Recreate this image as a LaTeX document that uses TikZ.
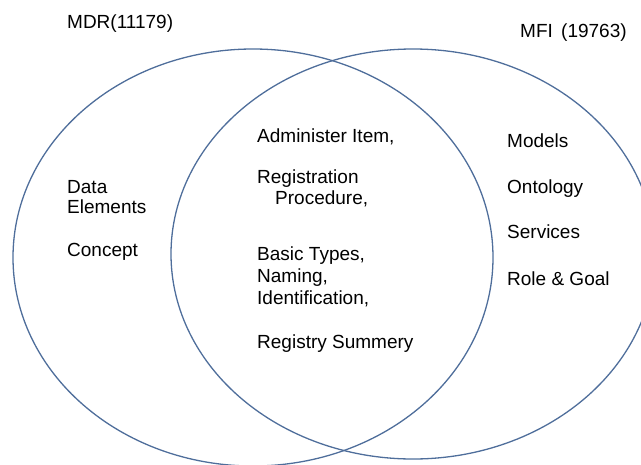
\documentclass[tikz,border=0pt]{standalone}
\usepackage{fontspec}
\setmainfont{Liberation Sans}
\definecolor{setline}{RGB}{79,110,155}

\begin{document}
\begin{tikzpicture}[x=1pt,y=-1pt,
	setcircle/.style={draw=setline,line width=1.3pt},
	item/.style={anchor=base west,inner sep=0pt,font=\fontsize{19}{22}\selectfont}]
\useasboundingbox (0,0) rectangle (641,464);
\clip (0,0) rectangle (641,464);
\draw[setcircle] (253,257.5) ellipse (240pt and 208.5pt);
\draw[setcircle] (413,254) ellipse (242pt and 205pt);

\node[item] (mdr) at (67,28) {MDR(11179)};
\node[item] (mfi) at (520,37) {MFI\hspace{3pt} (19763)};

\node[item] (data) at (67,193) {Data};
\node[item] (elements) at (67,213) {Elements};
\node[item] (concept) at (67,256) {Concept};

\node[item] (admin) at (257,142) {Administer Item,};
\node[item] (regist) at (257,183) {Registration};
\node[item] (proc) at (275,204) {Procedure,};
\node[item] (basic) at (257,260) {Basic Types,};
\node[item] (naming) at (257,282) {Naming,};
\node[item] (ident) at (257,304) {Identification,};
\node[item] (summ) at (257,348) {Registry Summery};

\node[item] (models) at (507,147) {Models};
\node[item] (onto) at (507,193) {Ontology};
\node[item] (serv) at (507,238) {Services};
\node[item] (role) at (507,285) {Role \& Goal};

\end{tikzpicture}
\end{document}
